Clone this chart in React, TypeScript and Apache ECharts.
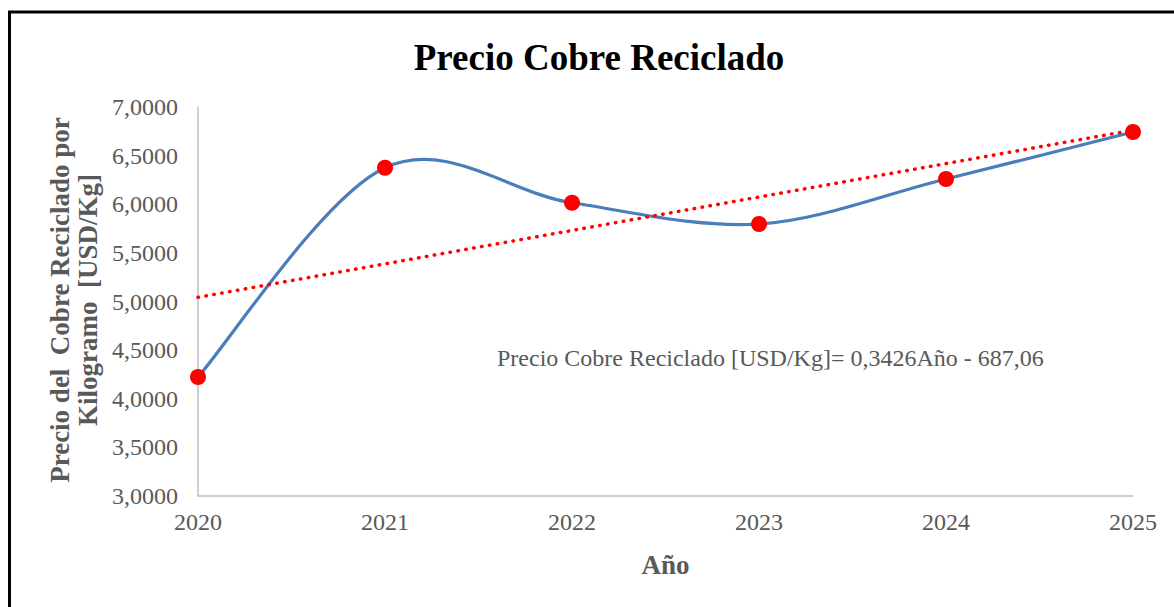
import React, { useEffect, useRef } from "react";
import * as echarts from "echarts";

const years = [2020, 2021, 2022, 2023, 2024, 2025];
const prices = [4.224, 6.375, 6.015, 5.797, 6.26, 6.743];
const yTicksMin = 3;
const yTicksMax = 7;
const equationText = "Precio Cobre Reciclado [USD/Kg]= 0,3426Año - 687,06";
const titleText = "Precio Cobre Reciclado";
const yNameLines = ["Precio del  Cobre Reciclado por", "Kilogramo  [USD/Kg]"];
const xName = "Año";

function linearFit(xs: number[], ys: number[]) {
  const n = xs.length;
  const mx = xs.reduce((a, b) => a + b, 0) / n;
  const my = ys.reduce((a, b) => a + b, 0) / n;
  let sxy = 0;
  let sxx = 0;
  for (let i = 0; i < n; i++) {
    sxy += (xs[i] - mx) * (ys[i] - my);
    sxx += (xs[i] - mx) * (xs[i] - mx);
  }
  const b = sxy / sxx;
  return { a: my - b * mx, b };
}

const FONT = "'Liberation Serif', 'Times New Roman', serif";
const GREY = "#595959";

export default function App() {
  const ref = useRef<HTMLDivElement>(null);
  useEffect(() => {
    if (!ref.current) return;
    const chart = echarts.init(ref.current, undefined, { renderer: "svg" });
    const fit = linearFit(years, prices);
    const x0 = years[0];
    const x1 = years[years.length - 1];
    const trend = [
      [x0, fit.a + fit.b * x0],
      [x1, fit.a + fit.b * x1],
    ];
    const points = years.map((y, i) => [y, prices[i]]);

    const renderSmooth = (params: any, api: any) => {
      if (params.dataIndex !== 0) return null;
      const pts = points.map((p) => api.coord(p));
      const n = pts.length;
      let d = `M${pts[0][0]},${pts[0][1]}`;
      const k = 1 / 6;
      for (let i = 0; i < n - 1; i++) {
        const p0 = pts[Math.max(0, i - 1)];
        const p1 = pts[i];
        const p2 = pts[i + 1];
        const p3 = pts[Math.min(n - 1, i + 2)];
        const c1x = p1[0] + (p2[0] - p0[0]) * k;
        const c1y = p1[1] + (p2[1] - p0[1]) * k;
        const c2x = p2[0] - (p3[0] - p1[0]) * k;
        const c2y = p2[1] - (p3[1] - p1[1]) * k;
        d += ` C${c1x},${c1y} ${c2x},${c2y} ${p2[0]},${p2[1]}`;
      }
      return {
        type: "path",
        shape: { pathData: d },
        style: { fill: "none", stroke: "#4a7ebb", lineWidth: 3.2 },
        silent: true,
      };
    };

    chart.setOption({
      animation: false,
      backgroundColor: "#ffffff",
      title: {
        text: titleText,
        left: 594,
        top: 34,
        textAlign: "center",
        textStyle: { fontFamily: FONT, fontWeight: "bold", fontSize: 37, color: "#000000" },
      },
      grid: { left: 198, right: 41, top: 107, bottom: 111 },
      xAxis: {
        type: "value",
        min: 2020,
        max: 2025,
        interval: 1,
        name: xName,
        nameLocation: "middle",
        nameGap: 55,
        nameTextStyle: { fontFamily: FONT, fontWeight: "bold", fontSize: 27, color: GREY },
        axisLine: { show: true, lineStyle: { color: "#bfbfbf", width: 1.5 } },
        axisTick: { show: false },
        splitLine: { show: false },
        axisLabel: {
          formatter: (v: number) => String(v),
          fontFamily: FONT,
          fontSize: 24,
          color: GREY,
          margin: 14,
        },
      },
      yAxis: {
        type: "value",
        min: yTicksMin,
        max: yTicksMax,
        interval: 0.5,
        axisLine: { show: true, lineStyle: { color: "#bfbfbf", width: 1.5 } },
        axisTick: { show: false },
        splitLine: { show: false },
        axisLabel: {
          formatter: (v: number) => v.toFixed(4).replace(".", ","),
          fontFamily: FONT,
          fontSize: 24,
          color: GREY,
          margin: 20,
        },
      },
      graphic: [
        {
          type: "rect",
          shape: { x: 9.5, y: 12, width: 1300, height: 800 },
          style: { fill: "none", stroke: "#000000", lineWidth: 3 },
          silent: true,
        },
        {
          type: "text",
          x: 74,
          y: 300,
          rotation: Math.PI / 2,
          style: {
            text: yNameLines.join("\n"),
            fontFamily: FONT,
            fontWeight: "bold",
            fontSize: 27,
            lineHeight: 28,
            fill: GREY,
            align: "center",
            verticalAlign: "middle",
          },
        },
        {
          type: "text",
          x: 497,
          y: 358,
          style: {
            text: equationText,
            fontFamily: FONT,
            fontSize: 24,
            fill: GREY,
            align: "left",
            verticalAlign: "middle",
          },
        },
      ],
      series: [
        {
          type: "custom",
          data: points,
          renderItem: renderSmooth,
          z: 2,
        },
        {
          type: "line",
          data: trend,
          symbol: "none",
          lineStyle: { color: "#ff0000", width: 3.5, type: [0.5, 7.5], cap: "round" },
          z: 3,
        },
        {
          type: "scatter",
          data: points,
          symbol: "circle",
          symbolSize: 16,
          itemStyle: { color: "#ff0000", opacity: 1 },
          z: 4,
        },
      ],
    });
    return () => chart.dispose();
  }, []);
  return (
    <div
      ref={ref}
      style={{ position: "fixed", left: 0, top: 0, width: 1174, height: 607, background: "#fff" }}
    />
  );
}
